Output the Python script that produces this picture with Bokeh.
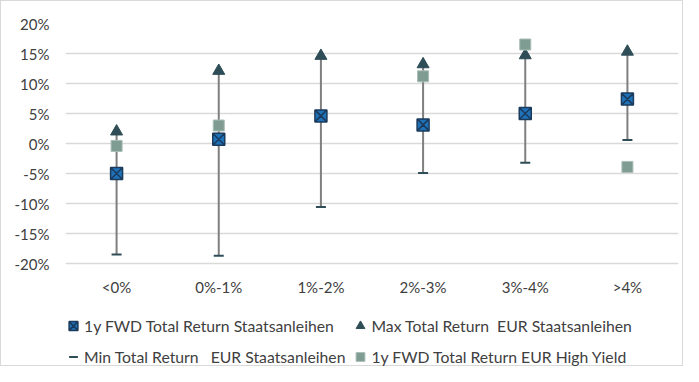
from bokeh.plotting import figure
from bokeh.models import FactorRange, FixedTicker, Legend, LegendItem, ColumnDataSource
from bokeh.core.properties import value
from bokeh.embed import file_html
from bokeh.resources import INLINE

categories = ["<0%", "0%-1%", "1%-2%", "2%-3%", "3%-4%", ">4%"]
fwd_staats = [-5.0, 0.7, 4.6, 3.1, 5.0, 7.4]
max_staats = [2.0, 12.1, 14.6, 13.2, 14.7, 15.3]
min_staats = [-18.5, -18.7, -10.6, -4.9, -3.2, 0.6]
fwd_hy = [-0.4, 3.0, 4.6, 11.2, 16.5, -3.9]
y_ticks = [-20, -15, -10, -5, 0, 5, 10, 15, 20]

FONT = "Lato"
TXT = "#404040"

src = ColumnDataSource(dict(cat=categories, fwd=fwd_staats, mx=max_staats,
                            mn=min_staats, hy=fwd_hy,
                            base=[y_ticks[0]] * len(categories)))

# frame extends below the -20% line to host category labels and legend
H, TOP, PX_PER_UNIT = 366, 22, 6.0
lo = y_ticks[-1] - (H - TOP) / PX_PER_UNIT

p = figure(width=683, height=H, x_range=FactorRange(*categories),
           y_range=(lo, y_ticks[-1]), output_backend="svg", toolbar_location=None,
           min_border_left=64, min_border_right=6, min_border_top=TOP,
           min_border_bottom=0)
p.outline_line_color = None
p.xaxis.visible = False
p.styles = {"border": "1px solid #d9d9d9"}

p.segment(x0="cat", y0="mn", x1="cat", y1="mx", source=src,
          line_color="#7f7f7f", line_width=2)
r_min = p.scatter(x="cat", y="mn", source=src, marker="dash", size=10,
                  line_color="#2e4d57", line_width=2)
r_max = p.scatter(x="cat", y="mx", source=src, marker="triangle", size=12,
                  fill_color="#2e4d57", line_color="#2e4d57")
r_hy = p.scatter(x="cat", y="hy", source=src, marker="square", size=11,
                 fill_color="#7f9c92", line_color="#a9bdb6", line_width=1)
r_fwd = p.scatter(x="cat", y="fwd", source=src, marker="square_x", size=12,
                  fill_color="#1f72b8", line_color="#1b3a5c", line_width=1.5)

# category labels under the -20% line
p.text(x="cat", y="base", text="cat", source=src, y_offset=23,
       text_align="center", text_baseline="middle",
       text_font=value(FONT), text_font_size="15px", text_color=TXT)

p.xgrid.grid_line_color = None
p.ygrid.grid_line_color = "#d9d9d9"
p.ygrid.grid_line_width = 1.5
p.yaxis.ticker = FixedTicker(ticks=y_ticks)
p.yaxis.major_label_overrides = {t: f"{t}%" for t in y_ticks}
ax = p.yaxis[0]
ax.axis_line_color = None
ax.major_tick_line_color = None
ax.minor_tick_line_color = None
ax.major_label_text_font = FONT
ax.major_label_text_font_size = "15px"
ax.major_label_text_color = TXT
ax.major_label_standoff = 10

legend = Legend(items=[
    LegendItem(label="1y FWD Total Return Staatsanleihen", renderers=[r_fwd]),
    LegendItem(label="Min Total Return\u00a0\u00a0 EUR Staatsanleihen", renderers=[r_min]),
    LegendItem(label="Max Total Return\u00a0 EUR Staatsanleihen", renderers=[r_max]),
    LegendItem(label="1y FWD Total Return EUR High Yield", renderers=[r_hy]),
], ncols=2, location=(-3, -3))
legend.border_line_color = None
legend.background_fill_alpha = 0
legend.label_text_font = FONT
legend.label_text_font_size = "15.75px"
legend.label_text_color = TXT
legend.glyph_width = 22
legend.glyph_height = 27
legend.label_height = 27
legend.label_standoff = 0
legend.spacing = 4
legend.padding = 0
legend.margin = 0
p.add_layout(legend, "center")

open("out.html", "w").write(file_html(p, INLINE))
